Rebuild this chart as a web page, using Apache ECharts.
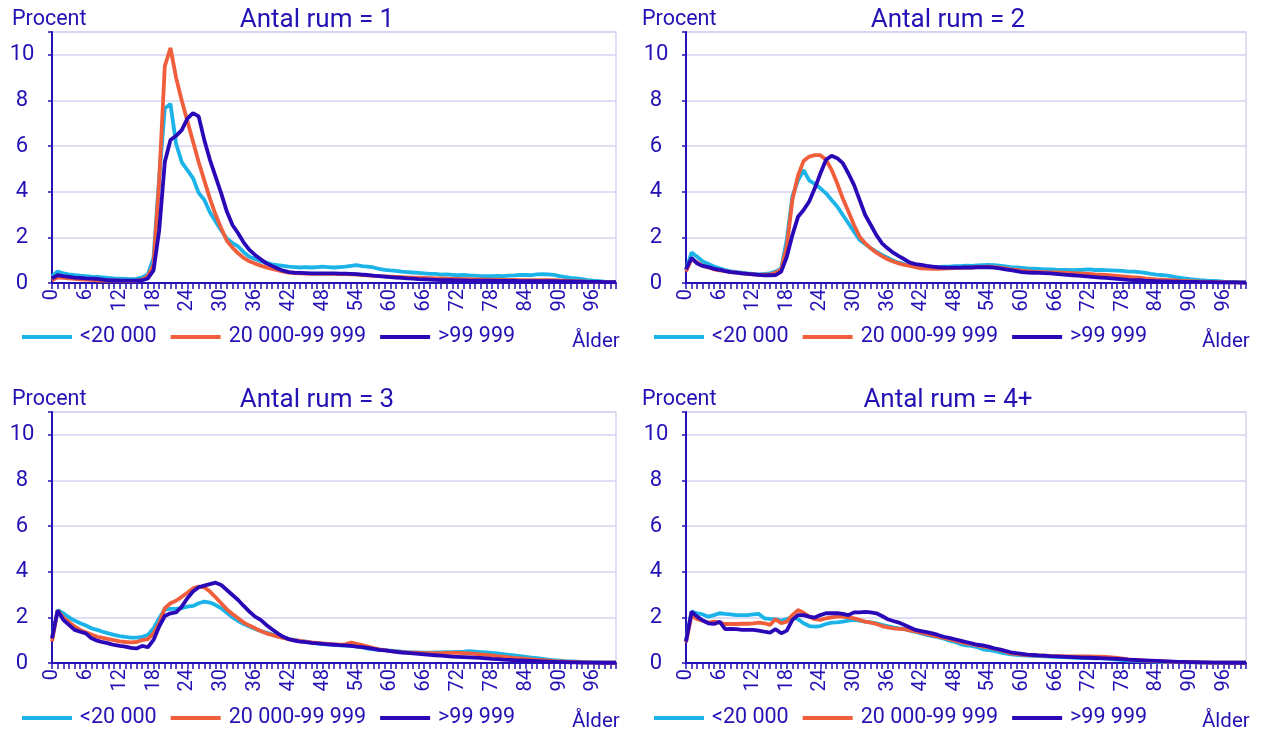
<!DOCTYPE html>
<html><head><meta charset="utf-8">
<script src="https://cdn.jsdelivr.net/npm/echarts@6/dist/echarts.min.js"></script>
<style>html,body{margin:0;padding:0;background:#fff}#c{width:1264px;height:736px}</style>
</head><body><div id="c"></div>
<script>
const ages = Array.from({length:101},(_, i)=>String(i));
const seriesNames = ['<20 000','20 000-99 999','>99 999'];
const panelTitles = ['Antal rum = 1','Antal rum = 2','Antal rum = 3','Antal rum = 4+'];

const lb1 = [0.3,0.5,0.42,0.38,0.35,0.32,0.3,0.28,0.27,0.25,
0.22,0.2,0.19,0.18,0.17,0.18,0.25,0.38,1.1,4.6,
7.65,7.85,6.1,5.3,4.95,4.6,3.95,3.65,3.1,2.7,
2.3,1.95,1.75,1.6,1.35,1.15,1.05,0.95,0.9,0.82,
0.78,0.75,0.72,0.7,0.68,0.7,0.68,0.7,0.72,0.7,
0.68,0.7,0.72,0.75,0.78,0.74,0.72,0.68,0.62,0.58,
0.55,0.53,0.5,0.48,0.46,0.44,0.42,0.4,0.4,0.37,
0.38,0.36,0.34,0.35,0.33,0.32,0.3,0.3,0.3,0.31,
0.3,0.32,0.33,0.35,0.36,0.34,0.38,0.39,0.38,0.36,
0.3,0.26,0.22,0.2,0.17,0.13,0.1,0.08,0.06,0.05,0.05];
const or1 = [0.12,0.25,0.22,0.2,0.18,0.16,0.15,0.14,0.12,0.11,
0.1,0.1,0.1,0.09,0.09,0.1,0.15,0.3,0.8,4.5,
9.5,10.3,9.0,8.0,7.1,6.2,5.3,4.5,3.7,3.0,
2.4,1.85,1.55,1.3,1.1,0.95,0.85,0.76,0.68,0.62,
0.56,0.5,0.46,0.43,0.42,0.41,0.4,0.4,0.4,0.4,
0.4,0.39,0.39,0.38,0.37,0.35,0.33,0.31,0.3,0.29,
0.28,0.27,0.26,0.25,0.24,0.23,0.22,0.21,0.2,0.2,
0.19,0.18,0.18,0.17,0.17,0.16,0.16,0.15,0.15,0.15,
0.14,0.14,0.14,0.13,0.13,0.13,0.13,0.12,0.12,0.12,
0.11,0.1,0.09,0.08,0.07,0.06,0.05,0.05,0.04,0.04,0.03];
const db1 = [0.2,0.35,0.3,0.27,0.24,0.22,0.2,0.19,0.18,0.15,
0.12,0.11,0.1,0.1,0.1,0.1,0.12,0.2,0.55,2.3,
5.3,6.27,6.45,6.7,7.2,7.45,7.3,6.27,5.4,4.66,
3.93,3.13,2.54,2.18,1.77,1.45,1.23,1.04,0.86,0.75,
0.64,0.54,0.48,0.45,0.44,0.43,0.42,0.42,0.42,0.42,
0.42,0.41,0.41,0.4,0.39,0.37,0.35,0.32,0.3,0.28,
0.26,0.24,0.22,0.2,0.19,0.17,0.16,0.15,0.14,0.13,
0.12,0.12,0.11,0.11,0.1,0.1,0.1,0.1,0.1,0.09,
0.09,0.09,0.09,0.08,0.08,0.08,0.08,0.08,0.08,0.08,
0.07,0.07,0.07,0.06,0.06,0.05,0.05,0.05,0.04,0.04,0.04];

const lb2 = [0.57,1.33,1.15,0.94,0.83,0.72,0.64,0.57,0.51,0.48,
0.45,0.42,0.4,0.38,0.4,0.42,0.5,0.64,1.9,3.8,
4.5,4.95,4.5,4.34,4.15,3.93,3.64,3.35,2.98,2.62,
2.25,1.89,1.71,1.52,1.37,1.23,1.11,0.98,0.89,0.83,
0.79,0.75,0.72,0.7,0.7,0.7,0.72,0.72,0.74,0.74,
0.76,0.75,0.77,0.78,0.79,0.78,0.76,0.73,0.7,0.68,
0.66,0.64,0.63,0.62,0.6,0.6,0.58,0.57,0.57,0.56,
0.57,0.58,0.6,0.57,0.57,0.56,0.55,0.54,0.53,0.5,
0.5,0.48,0.44,0.4,0.37,0.35,0.32,0.28,0.24,0.2,
0.17,0.15,0.12,0.1,0.09,0.08,0.06,0.05,0.05,0.04,0.04];
const or2 = [0.5,1.05,0.9,0.75,0.68,0.6,0.55,0.52,0.48,0.45,
0.42,0.4,0.38,0.36,0.37,0.38,0.45,0.6,1.6,3.64,
4.7,5.35,5.54,5.6,5.6,5.4,4.96,4.37,3.7,3.13,
2.54,2.03,1.74,1.52,1.33,1.18,1.04,0.94,0.86,0.79,
0.75,0.69,0.64,0.63,0.62,0.62,0.63,0.64,0.65,0.66,
0.67,0.68,0.7,0.71,0.72,0.7,0.67,0.64,0.6,0.57,
0.54,0.52,0.5,0.49,0.48,0.47,0.46,0.45,0.44,0.43,
0.42,0.41,0.4,0.38,0.37,0.35,0.33,0.31,0.29,0.27,
0.25,0.23,0.2,0.18,0.16,0.15,0.13,0.12,0.1,0.09,
0.08,0.07,0.06,0.05,0.05,0.04,0.04,0.03,0.03,0.03,0.02];
const db2 = [0.6,1.1,0.85,0.75,0.7,0.62,0.58,0.52,0.48,0.45,
0.42,0.4,0.38,0.36,0.33,0.34,0.35,0.5,1.15,2.1,
2.9,3.2,3.57,4.15,4.8,5.4,5.58,5.47,5.25,4.8,
4.3,3.64,2.98,2.54,2.1,1.74,1.52,1.33,1.18,1.04,
0.89,0.83,0.79,0.75,0.72,0.69,0.67,0.67,0.67,0.67,
0.68,0.68,0.69,0.69,0.69,0.67,0.64,0.6,0.56,0.52,
0.48,0.46,0.45,0.44,0.43,0.42,0.4,0.38,0.36,0.34,
0.32,0.3,0.28,0.26,0.24,0.22,0.2,0.18,0.16,0.14,
0.13,0.12,0.1,0.09,0.08,0.07,0.07,0.06,0.06,0.05,
0.05,0.05,0.04,0.04,0.04,0.03,0.03,0.03,0.03,0.02,0.02];

const lb3 = [1.08,2.32,2.18,2.0,1.86,1.74,1.64,1.52,1.45,1.37,
1.3,1.23,1.18,1.14,1.11,1.11,1.15,1.23,1.52,1.96,
2.35,2.37,2.37,2.4,2.47,2.5,2.62,2.69,2.65,2.54,
2.4,2.2,2.0,1.84,1.71,1.6,1.49,1.4,1.33,1.26,
1.2,1.13,1.05,1.01,0.96,0.94,0.89,0.86,0.83,0.82,
0.79,0.77,0.76,0.75,0.73,0.68,0.63,0.6,0.58,0.56,
0.54,0.52,0.5,0.48,0.47,0.46,0.45,0.45,0.46,0.47,
0.48,0.48,0.49,0.5,0.52,0.5,0.48,0.46,0.44,0.42,
0.39,0.36,0.33,0.3,0.27,0.24,0.21,0.18,0.15,0.12,
0.1,0.08,0.07,0.06,0.05,0.04,0.03,0.03,0.02,0.02,0.02];
const or3 = [0.95,2.3,2.0,1.8,1.6,1.45,1.35,1.25,1.15,1.1,
1.05,1.0,0.95,0.92,0.9,0.92,1.0,1.05,1.3,1.75,
2.4,2.62,2.73,2.9,3.08,3.27,3.35,3.32,3.13,2.88,
2.62,2.35,2.15,1.96,1.77,1.64,1.52,1.4,1.3,1.23,
1.15,1.1,1.04,1.0,0.97,0.94,0.9,0.88,0.86,0.84,
0.82,0.8,0.82,0.89,0.84,0.78,0.72,0.65,0.6,0.56,
0.52,0.5,0.48,0.46,0.45,0.44,0.43,0.43,0.43,0.43,
0.44,0.44,0.44,0.43,0.42,0.4,0.38,0.36,0.33,0.3,
0.28,0.25,0.22,0.2,0.18,0.16,0.14,0.12,0.1,0.08,
0.07,0.06,0.05,0.04,0.03,0.03,0.02,0.02,0.02,0.01,0.01];
const db3 = [1.08,2.3,1.89,1.67,1.45,1.37,1.3,1.08,0.98,0.91,
0.86,0.79,0.75,0.72,0.66,0.64,0.75,0.69,1.01,1.6,
2.06,2.18,2.22,2.47,2.84,3.13,3.32,3.39,3.46,3.52,
3.42,3.2,2.98,2.76,2.5,2.25,2.03,1.89,1.67,1.48,
1.3,1.15,1.04,0.98,0.94,0.91,0.88,0.86,0.84,0.82,
0.8,0.78,0.77,0.75,0.72,0.7,0.66,0.62,0.58,0.55,
0.52,0.49,0.46,0.44,0.42,0.4,0.38,0.36,0.34,0.32,
0.3,0.28,0.27,0.26,0.25,0.24,0.22,0.2,0.18,0.17,
0.15,0.14,0.12,0.11,0.1,0.09,0.08,0.07,0.06,0.05,
0.04,0.04,0.03,0.03,0.02,0.02,0.02,0.01,0.01,0.01,0.01];

const lb4 = [1.0,2.25,2.18,2.13,2.03,2.1,2.18,2.15,2.13,2.1,
2.1,2.1,2.13,2.15,1.96,1.93,1.92,1.86,1.92,2.03,
1.92,1.74,1.62,1.59,1.62,1.71,1.77,1.78,1.81,1.86,
1.89,1.86,1.81,1.78,1.74,1.67,1.62,1.56,1.52,1.48,
1.42,1.36,1.3,1.23,1.18,1.13,1.07,0.98,0.92,0.83,
0.77,0.75,0.69,0.6,0.57,0.53,0.47,0.42,0.38,0.36,
0.34,0.32,0.31,0.3,0.29,0.28,0.27,0.26,0.25,0.24,
0.23,0.22,0.21,0.2,0.2,0.19,0.17,0.15,0.13,0.11,
0.1,0.09,0.08,0.07,0.06,0.05,0.05,0.04,0.04,0.03,
0.03,0.03,0.02,0.02,0.02,0.02,0.01,0.01,0.01,0.01,0.01];
const or4 = [0.9,2.1,1.92,1.85,1.77,1.81,1.77,1.71,1.71,1.71,
1.72,1.72,1.74,1.77,1.74,1.67,1.92,1.74,1.81,2.1,
2.32,2.2,2.03,1.92,1.89,1.96,2.0,2.03,2.03,2.0,
1.96,1.89,1.81,1.77,1.71,1.62,1.56,1.52,1.5,1.48,
1.43,1.39,1.33,1.27,1.21,1.15,1.1,1.04,0.98,0.92,
0.86,0.83,0.77,0.72,0.69,0.63,0.57,0.51,0.42,0.4,
0.37,0.35,0.34,0.33,0.32,0.31,0.3,0.3,0.29,0.29,
0.29,0.29,0.29,0.28,0.28,0.27,0.25,0.22,0.19,0.16,
0.14,0.12,0.1,0.09,0.08,0.07,0.06,0.05,0.05,0.04,
0.04,0.03,0.03,0.02,0.02,0.02,0.02,0.01,0.01,0.01,0.01];
const db4 = [0.94,2.25,2.03,1.86,1.74,1.71,1.81,1.48,1.5,1.48,
1.45,1.45,1.45,1.42,1.37,1.33,1.48,1.3,1.42,1.89,
2.1,2.1,2.03,1.99,2.1,2.18,2.18,2.18,2.15,2.1,
2.22,2.22,2.24,2.22,2.18,2.06,1.92,1.84,1.77,1.67,
1.56,1.45,1.4,1.35,1.3,1.23,1.15,1.1,1.04,0.98,
0.92,0.86,0.8,0.77,0.72,0.64,0.6,0.53,0.47,0.43,
0.4,0.37,0.35,0.33,0.32,0.3,0.29,0.28,0.27,0.26,
0.25,0.24,0.23,0.22,0.21,0.2,0.19,0.18,0.17,0.15,
0.14,0.12,0.11,0.1,0.09,0.08,0.07,0.06,0.05,0.05,
0.04,0.04,0.03,0.03,0.02,0.02,0.02,0.01,0.01,0.01,0.01];

const panels = [[lb1,or1,db1],[lb2,or2,db2],[lb3,or3,db3],[lb4,or4,db4]];

const INK = '#2412b4';
const GRIDC = '#d5d3f0';
const COLORS = ['#1cb4e8','#f05e3c','#2a08b8'];
const FONT = 'Roboto';

const gridPos = [
  {left:52, top:32, width:564, height:251},
  {left:686, top:32, width:560, height:251},
  {left:52, top:412, width:564, height:251},
  {left:686, top:412, width:560, height:251}
];
const grids = gridPos.map(g => Object.assign({show:true, borderColor:GRIDC, borderWidth:1.5, backgroundColor:'transparent'}, g));

const xAxes = gridPos.map((g,i)=>({
  type:'category', gridIndex:i, data:ages, boundaryGap:false,
  axisLine:{lineStyle:{color:INK, width:2}},
  axisTick:{show:true, interval:0, length:6, lineStyle:{color:INK, width:1.5}},
  axisLabel:{interval:5, rotate:90, color:INK, fontFamily:FONT, fontSize:20, margin:6},
  splitLine:{show:false}
}));
const yAxes = gridPos.map((g,i)=>({
  type:'value', gridIndex:i, min:0, max:11, interval:2,
  axisLine:{show:true, lineStyle:{color:INK, width:2}},
  axisTick:{show:true, length:4, lineStyle:{color:INK, width:1.5}},
  axisLabel:{color:INK, fontFamily:FONT, fontSize:22, margin:30, align:'center',
    formatter: v => (v > 10 ? '' : String(v))},
  splitLine:{show:true, lineStyle:{color:GRIDC, width:1.5}}
}));

const series = [];
panels.forEach((p,i)=>{
  p.forEach((data,k)=>{
    series.push({
      type:'line', name:seriesNames[k], xAxisIndex:i, yAxisIndex:i, data:data,
      showSymbol:false, symbol:'none', smooth:false,
      lineStyle:{color:COLORS[k], width:3.8}, itemStyle:{color:COLORS[k]},
      emphasis:{disabled:true}, z:2+k
    });
  });
});

const legendPos = [{left:22, top:326},{left:654, top:326},{left:22, top:707},{left:654, top:707}];
const legends = legendPos.map(lp=>({
  left:lp.left, top:lp.top, orient:'horizontal', padding:0,
  icon:'rect', itemWidth:50, itemHeight:4, itemGap:14,
  data:seriesNames, selectedMode:false,
  textStyle:{color:INK, fontFamily:FONT, fontSize:21.5, padding:[0,0,0,3]}
}));

const txt = (x,y,text,size,align) => ({type:'text', x:x, y:y, silent:true,
  style:{text:text, fill:INK, font: size+'px '+FONT, textAlign:align, textVerticalAlign:'middle'}});
const titleCenters = [[317,20],[948,20],[317,400],[948,400]];
const graphics = [];
titleCenters.forEach((c,i)=>{
  graphics.push(txt(c[0], c[1], panelTitles[i], 26, 'center'));
});
[[12,20],[642,20],[12,400],[642,400]].forEach(c=>graphics.push(txt(c[0],c[1],'Procent',21.5,'left')));
[[572,342],[1202,342],[572,722],[1202,722]].forEach(c=>graphics.push(txt(c[0],c[1],'Ålder',20.5,'left')));

const chart = echarts.init(document.getElementById('c'), null, {renderer:'canvas'});
chart.setOption({
  animation:false,
  backgroundColor:'#ffffff',
  grid:grids, xAxis:xAxes, yAxis:yAxes, series:series,
  legend:legends, graphic:graphics,
  textStyle:{fontFamily:FONT}
});
</script>
</body></html>
